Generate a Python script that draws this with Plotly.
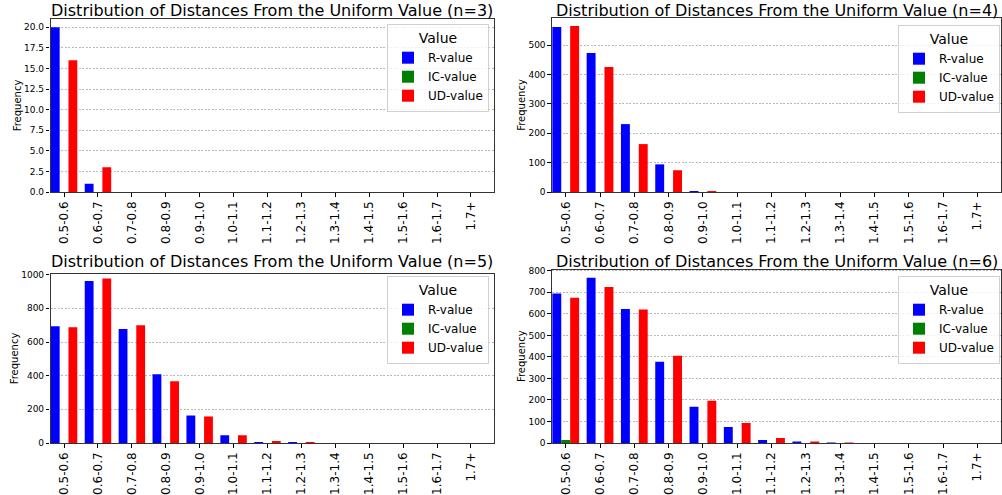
import plotly.graph_objects as go
from plotly.subplots import make_subplots

categories = ["0.5-0.6", "0.6-0.7", "0.7-0.8", "0.8-0.9", "0.9-1.0", "1.0-1.1",
              "1.1-1.2", "1.2-1.3", "1.3-1.4", "1.4-1.5", "1.5-1.6", "1.6-1.7", "1.7+"]

n3_r = [20, 1, 0, 0, 0, 0, 0, 0, 0, 0, 0, 0, 0]
n3_ic = [0, 0, 0, 0, 0, 0, 0, 0, 0, 0, 0, 0, 0]
n3_ud = [16, 3, 0, 0, 0, 0, 0, 0, 0, 0, 0, 0, 0]

n4_r = [561, 473, 231, 94, 1, 0, 0, 0, 0, 0, 0, 0, 0]
n4_ic = [0, 0, 0, 0, 0, 0, 0, 0, 0, 0, 0, 0, 0]
n4_ud = [565, 425, 163, 74, 2, 0, 0, 0, 0, 0, 0, 0, 0]

n5_r = [694, 962, 677, 409, 164, 46, 5, 1, 0, 0, 0, 0, 0]
n5_ic = [0, 0, 0, 0, 0, 0, 0, 0, 0, 0, 0, 0, 0]
n5_ud = [688, 978, 700, 367, 158, 46, 10, 1, 0, 0, 0, 0, 0]

n6_r = [694, 768, 623, 377, 168, 74, 14, 5, 1, 0, 0, 0, 0]
n6_ic = [14, 0, 0, 0, 0, 0, 0, 0, 0, 0, 0, 0, 0]
n6_ud = [675, 725, 620, 405, 196, 93, 23, 5, 1, 0, 0, 0, 0]

series_names = ["R-value", "IC-value", "UD-value"]
series_colors = ["#0000ff", "#008000", "#ff0000"]

panels = [
    ("Distribution of Distances From the Uniform Value (n=3)", [n3_r, n3_ic, n3_ud], [0, 21], [0, 2.5, 5, 7.5, 10, 12.5, 15, 17.5, 20], ".1f"),
    ("Distribution of Distances From the Uniform Value (n=4)", [n4_r, n4_ic, n4_ud], [0, 592], [0, 100, 200, 300, 400, 500], "d"),
    ("Distribution of Distances From the Uniform Value (n=5)", [n5_r, n5_ic, n5_ud], [0, 1004], [0, 200, 400, 600, 800, 1000], "d"),
    ("Distribution of Distances From the Uniform Value (n=6)", [n6_r, n6_ic, n6_ud], [0, 806], [0, 100, 200, 300, 400, 500, 600, 700, 800], "d"),
]

W, H = 1002, 495
# pixel boxes: (left, right, top, bottom)
boxes = [(50.5, 494.3, 19, 192), (552, 1001, 18, 192), (50.5, 494.3, 274, 443), (552, 1001, 269.5, 443)]
legend_pos = [(489, 24), (1000, 25), (489, 276), (1000, 276)]
title_y = [10, 10, 261, 261]

fig = make_subplots(rows=2, cols=2)
FONT = "DejaVu Sans"

for i, (title, vals, yr, ytv, yfmt) in enumerate(panels):
    row, col = i // 2 + 1, i % 2 + 1
    lname = "legend" if i == 0 else f"legend{i+1}"
    for name, color, v in zip(series_names, series_colors, vals):
        fig.add_trace(go.Bar(x=categories, y=v, name=name, marker_color=color,
                             marker_line_width=0, legend=lname, showlegend=True),
                      row=row, col=col)
    l, r, t, b = boxes[i]
    xa = "xaxis" if i == 0 else f"xaxis{i+1}"
    ya = "yaxis" if i == 0 else f"yaxis{i+1}"
    fig.layout[xa].update(domain=[l / W, r / W], range=[-0.4, 12.69], type="category",
                          automargin=False,
                          tickangle=-90, ticks="outside", ticklen=3.5, tickcolor="#000",
                          showline=True, linecolor="#333", linewidth=1.2, mirror=True,
                          showgrid=False, tickfont=dict(family=FONT, size=12, color="#000"))
    fig.layout[ya].update(domain=[1 - b / H, 1 - t / H], range=yr, tickvals=ytv, tickformat=yfmt,
                          automargin=False,
                          ticks="outside", ticklen=3.5, tickcolor="#000",
                          showline=True, linecolor="#333", linewidth=1.2, mirror=True,
                          showgrid=True, gridcolor="#b8b8b8", griddash="2px,1.5px", gridwidth=0.6,
                          zeroline=False,
                          tickfont=dict(family=FONT, size=9, color="#000"),
                          title=dict(text="Frequency", font=dict(family=FONT, size=10, color="#000"), standoff=0))
    lx, ly = legend_pos[i]
    fig.layout[lname] = dict(x=lx / W, y=1 - ly / H, xanchor="right", yanchor="top",
                             bgcolor="rgba(255,255,255,0.8)", bordercolor="#d0d0d0", borderwidth=1,
                             font=dict(family=FONT, size=12, color="#000"),
                             title=dict(text="Value", side="top center", font=dict(family=FONT, size=14, color="#000")),
                             tracegroupgap=0, itemwidth=30)
    fig.add_annotation(text=title, xref="paper", yref="paper", x=(l + r) / 2 / W, y=1 - title_y[i] / H,
                       xanchor="center", yanchor="middle", showarrow=False,
                       font=dict(family=FONT, size=16, color="#000"))

fig.update_layout(width=W, height=H, autosize=False, margin=dict(l=0, r=0, t=0, b=0, autoexpand=False),
                  barmode="group", bargap=0.22, bargroupgap=0,
                  plot_bgcolor="white", paper_bgcolor="white",
                  font=dict(family=FONT))

fig.write_html("out.html", config={"displayModeBar": False},
               post_script="document.body.style.margin='0';document.body.style.overflow='hidden';")
